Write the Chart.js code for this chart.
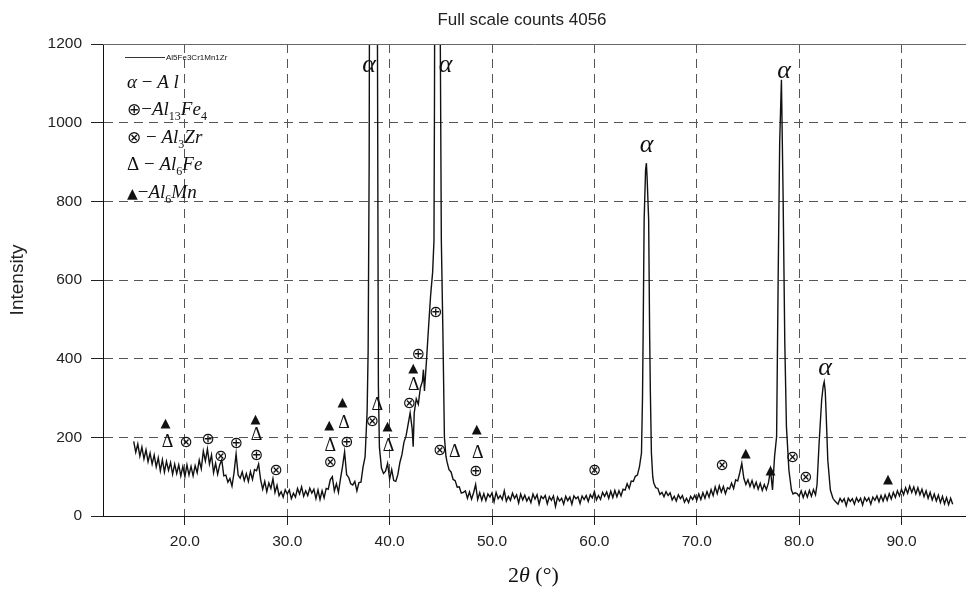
<!DOCTYPE html>
<html>
<head>
<meta charset="utf-8">
<title>XRD Al5Fe3Cr1Mn1Zr</title>
<script src="https://cdn.jsdelivr.net/npm/chart.js@4.4.1/dist/chart.umd.min.js"></script>
<style>
  html, body { margin: 0; padding: 0; background: #fff; }
  #wrap { width: 966px; height: 592px; }
</style>
</head>
<body>
<div id="wrap"><canvas id="xrd" width="966" height="592"></canvas></div>
<script>
// ----- scan data (2θ in degrees, counts) -----
const twoTheta = [
  15.0, 15.2, 15.4, 15.6, 15.8, 16.0, 16.2, 16.4, 16.6, 16.8,
  17.0, 17.2, 17.4, 17.6, 17.8, 18.0, 18.2, 18.4, 18.6, 18.8,
  19.0, 19.2, 19.4, 19.6, 19.8, 20.0, 20.2, 20.4, 20.6, 20.8,
  21.0, 21.2, 21.4, 21.6, 21.8, 22.0, 22.2, 22.4, 22.6, 22.8,
  23.0, 23.2, 23.4, 23.6, 23.8, 24.0, 24.2, 24.4, 24.6, 24.8,
  25.0, 25.2, 25.4, 25.6, 25.8, 26.0, 26.2, 26.4, 26.6, 26.8,
  27.0, 27.2, 27.4, 27.6, 27.8, 28.0, 28.2, 28.4, 28.6, 28.8,
  29.0, 29.2, 29.4, 29.6, 29.8, 30.0, 30.2, 30.4, 30.6, 30.8,
  31.0, 31.2, 31.4, 31.6, 31.8, 32.0, 32.2, 32.4, 32.6, 32.8,
  33.0, 33.2, 33.4, 33.6, 33.8, 34.0, 34.2, 34.4, 34.6, 34.8,
  35.0, 35.2, 35.4, 35.6, 35.8, 36.0, 36.2, 36.4, 36.6, 36.8,
  37.0, 37.2, 37.4, 37.6, 37.8, 37.9, 38.0, 38.1, 38.4, 38.7,
  38.8, 38.9, 39.0, 39.2, 39.4, 39.6, 39.8, 40.0, 40.2, 40.4,
  40.6, 40.8, 41.0, 41.2, 41.4, 41.6, 41.8, 42.0, 42.2, 42.3,
  42.4, 42.6, 42.8, 43.0, 43.2, 43.3, 43.4, 43.6, 43.8, 44.0,
  44.2, 44.33, 44.38, 44.5, 44.7, 44.85, 44.95, 45.05, 45.2, 45.35,
  45.5, 45.6, 45.8, 46.0, 46.2, 46.4, 46.6, 46.8, 47.0, 47.2,
  47.4, 47.6, 47.8, 48.0, 48.2, 48.4, 48.6, 48.8, 49.0, 49.2,
  49.4, 49.6, 49.8, 50.0, 50.2, 50.4, 50.6, 50.8, 51.0, 51.2,
  51.4, 51.6, 51.8, 52.0, 52.2, 52.4, 52.6, 52.8, 53.0, 53.2,
  53.4, 53.6, 53.8, 54.0, 54.2, 54.4, 54.6, 54.8, 55.0, 55.2,
  55.4, 55.6, 55.8, 56.0, 56.2, 56.4, 56.6, 56.8, 57.0, 57.2,
  57.4, 57.6, 57.8, 58.0, 58.2, 58.4, 58.6, 58.8, 59.0, 59.2,
  59.4, 59.6, 59.8, 60.0, 60.2, 60.4, 60.6, 60.8, 61.0, 61.2,
  61.4, 61.6, 61.8, 62.0, 62.2, 62.4, 62.6, 62.8, 63.0, 63.2,
  63.4, 63.6, 63.8, 64.0, 64.2, 64.4, 64.6, 64.7, 64.76, 64.86,
  65.0, 65.08, 65.15, 65.3, 65.4, 65.47, 65.57, 65.7, 65.8, 66.0,
  66.2, 66.4, 66.6, 66.8, 67.0, 67.2, 67.4, 67.6, 67.8, 68.0,
  68.2, 68.4, 68.6, 68.8, 69.0, 69.2, 69.4, 69.6, 69.8, 70.0,
  70.2, 70.4, 70.6, 70.8, 71.0, 71.2, 71.4, 71.6, 71.8, 72.0,
  72.2, 72.4, 72.6, 72.8, 73.0, 73.2, 73.4, 73.6, 73.8, 74.0,
  74.2, 74.4, 74.6, 74.8, 75.0, 75.2, 75.4, 75.6, 75.8, 76.0,
  76.2, 76.4, 76.6, 76.8, 77.0, 77.2, 77.4, 77.6, 77.8, 77.95,
  78.1, 78.27, 78.43, 78.6, 78.76, 79.0, 79.25, 79.4, 79.6, 79.8,
  80.0, 80.2, 80.4, 80.6, 80.8, 81.0, 81.2, 81.4, 81.6, 81.75,
  81.95, 82.2, 82.35, 82.45, 82.55, 82.66, 82.8, 83.05, 83.3, 83.5,
  83.8, 84.0, 84.2, 84.4, 84.6, 84.8, 85.0, 85.2, 85.4, 85.6,
  85.8, 86.0, 86.2, 86.4, 86.6, 86.8, 87.0, 87.2, 87.4, 87.6,
  87.8, 88.0, 88.2, 88.4, 88.6, 88.8, 89.0, 89.2, 89.4, 89.6,
  89.8, 90.0, 90.2, 90.4, 90.6, 90.8, 91.0, 91.2, 91.4, 91.6,
  91.8, 92.0, 92.2, 92.4, 92.6, 92.8, 93.0, 93.2, 93.4, 93.6,
  93.8, 94.0, 94.2, 94.4, 94.6, 94.8, 95.0
];

const counts = [
  190, 162, 183, 152, 175, 145, 168, 138, 160, 132,
  155, 125, 148, 115, 143, 112, 139, 116, 136, 106,
  132, 108, 130, 102, 126, 100, 130, 104, 126, 102,
  128, 110, 142, 120, 165, 140, 170, 132, 155, 110,
  134, 106, 130, 143, 102, 104, 86, 95, 76, 110,
  158, 104, 96, 112, 90, 108, 88, 113, 93, 118,
  115, 132, 92, 68, 88, 62, 84, 70, 95, 60,
  78, 52, 62, 48, 67, 56, 66, 44, 58, 48,
  70, 56, 74, 50, 64, 52, 71, 58, 68, 44,
  66, 42, 64, 46, 70, 68, 92, 100, 64, 82,
  60, 95, 126, 163, 105, 98, 82, 79, 88, 64,
  85, 86, 124, 150, 265, 420, 900, 2200, 4056, 2200,
  1300, 330, 175, 122, 108, 114, 134, 94, 118, 90,
  88, 105, 136, 156, 188, 203, 232, 262, 222, 176,
  262, 298, 284, 326, 342, 372, 318, 396, 480, 560,
  620, 700, 1058, 2500, 4056, 2500, 1200, 700, 470, 200,
  152, 138, 118, 112, 93, 90, 73, 74, 58, 60,
  64, 45, 61, 43, 59, 80, 42, 59, 40, 57,
  39, 56, 48, 59, 36, 60, 44, 52, 42, 64,
  38, 50, 40, 58, 45, 54, 33, 56, 41, 53,
  38, 48, 34, 56, 43, 54, 30, 50, 44, 52,
  31, 49, 40, 51, 24, 48, 38, 45, 30, 50,
  39, 48, 30, 51, 44, 49, 32, 51, 42, 52,
  37, 54, 46, 62, 41, 52, 42, 60, 50, 61,
  45, 63, 47, 65, 49, 64, 51, 68, 66, 82,
  70, 89, 88, 101, 104, 125, 160, 300, 456, 753,
  880, 897, 860, 753, 456, 312, 160, 100, 84, 72,
  70, 55, 60, 49, 62, 52, 59, 41, 50, 38,
  54, 44, 52, 35, 45, 34, 50, 42, 53, 40,
  56, 42, 59, 45, 62, 48, 67, 52, 74, 57,
  77, 61, 75, 57, 72, 69, 84, 70, 92, 89,
  110, 134, 96, 80, 92, 75, 90, 72, 86, 68,
  83, 65, 80, 67, 84, 117, 66, 151, 202, 600,
  950, 1109, 821, 440, 227, 117, 66, 56, 59, 57,
  50, 64, 47, 62, 48, 65, 50, 67, 54, 80,
  185, 295, 330, 341, 318, 244, 142, 66, 45, 38,
  30, 45, 36, 44, 26, 45, 37, 44, 30, 46,
  36, 45, 28, 47, 38, 46, 30, 48, 40, 51,
  36, 52, 38, 54, 40, 57, 43, 60, 47, 64,
  51, 68, 54, 72, 58, 76, 60, 74, 56, 72,
  54, 68, 49, 64, 45, 60, 41, 56, 38, 53,
  34, 50, 31, 47, 29, 45, 30
];

const xTicks = [20, 30, 40, 50, 60, 70, 80, 90];
const xTickLabels = ['20.0', '30.0', '40.0', '50.0', '60.0', '70.0', '80.0', '90.0'];
const yTicks = [0, 200, 400, 600, 800, 1000, 1200];

// phase markers: ▲ Al6Mn, Δ Al6Fe, ⊗ Al3Zr, ⊕ Al13Fe4
const markerX = [
  18.1, 18.3, 20.1, 22.25, 23.5, 25.0, 26.9, 27.0, 27.0, 28.9,
  34.1, 34.2, 34.2, 35.4, 35.55, 35.8, 38.3, 38.8, 39.8, 39.9,
  41.9, 42.3, 42.36, 42.8, 44.5, 44.9, 46.37, 48.5, 48.6, 48.4,
  60.0, 72.45, 74.78, 77.2, 79.35, 80.65, 88.68
];
const markerY = [
  236, 188, 185, 193, 150, 183, 244, 206, 152, 114,
  229, 178, 136, 288, 237, 187, 240, 281, 228, 178,
  286, 374, 333, 409, 516, 166, 162, 219, 160, 113,
  114, 128, 159, 115, 148, 97, 92
];
const markerSymbol = [
  '▲', 'Δ', '⊗', '⊕', '⊗', '⊕', '▲', 'Δ', '⊕', '⊗',
  '▲', 'Δ', '⊗', '▲', 'Δ', '⊕', '⊗', 'Δ', '▲', 'Δ',
  '⊗', '▲', 'Δ', '⊕', '⊕', '⊗', 'Δ', '▲', 'Δ', '⊕',
  '⊗', '⊗', '▲', '▲', '⊗', '⊗', '▲'
];

// α-Al reflections
const alphaX = [38.0, 45.46, 65.09, 78.53, 82.53];
const alphaY = [1147, 1147, 943, 1130, 375];

const SANS = "'Liberation Sans', Arial, sans-serif";
const SERIF = "'Liberation Serif', 'Times New Roman', serif";

const SYMBOL_FONT = {
  '▲': "13px 'DejaVu Sans'",
  'Δ': `18px ${SERIF}`,
  '⊗': "16px 'DejaVu Sans'",
  '⊕': "16px 'DejaVu Sans'"
};

const PART_FONT = {
  it: `italic 19px ${SERIF}`,
  rm: `19px ${SERIF}`,
  sub: `12px ${SERIF}`,
  sym: "17px 'DejaVu Sans'",
  tri: "14px 'DejaVu Sans'",
  xrm: `22px ${SERIF}`,
  xit: `italic 22px ${SERIF}`
};

const legendRows = [
  { y: 88, parts: [['α', 'it'], [' − ', 'rm'], ['A l', 'it']] },
  { y: 115, parts: [['⊕', 'sym'], ['−', 'rm'], ['Al', 'it'], ['13', 'sub'], ['Fe', 'it'], ['4', 'sub']] },
  { y: 143, parts: [['⊗', 'sym'], [' − ', 'rm'], ['Al', 'it'], ['3', 'sub'], ['Zr', 'it']] },
  { y: 170, parts: [['Δ', 'rm'], [' − ', 'rm'], ['Al', 'it'], ['6', 'sub'], ['Fe', 'it']] },
  { y: 198, parts: [['▲', 'tri'], ['−', 'rm'], ['Al', 'it'], ['6', 'sub'], ['Mn', 'it']] }
];

function drawParts(ctx, x, y, parts) {
  parts.forEach(([text, kind]) => {
    ctx.font = PART_FONT[kind];
    ctx.fillText(text, x, kind === 'sub' ? y + 5 : y);
    x += ctx.measureText(text).width;
  });
}

const overlay = {
  id: 'overlay',
  afterDraw(chart) {
    const { ctx, chartArea: area, scales: { x, y } } = chart;
    ctx.save();

    // solid top frame line
    const top = Math.round(y.getPixelForValue(1200)) + 0.5;
    ctx.strokeStyle = '#666';
    ctx.lineWidth = 1;
    ctx.beginPath();
    ctx.moveTo(area.left, top);
    ctx.lineTo(area.right, top);
    ctx.stroke();

    ctx.fillStyle = '#111';
    ctx.textAlign = 'center';
    ctx.textBaseline = 'middle';

    markerX.forEach((v, i) => {
      const s = markerSymbol[i];
      ctx.font = SYMBOL_FONT[s];
      ctx.fillText(s, x.getPixelForValue(v), y.getPixelForValue(markerY[i]));
    });

    ctx.font = `italic 26px ${SERIF}`;
    alphaX.forEach((v, i) => {
      ctx.fillText('α', x.getPixelForValue(v), y.getPixelForValue(alphaY[i]));
    });

    // title
    ctx.font = `17px ${SANS}`;
    ctx.fillStyle = '#222';
    ctx.fillText('Full scale counts 4056', 522, 20);

    // axis titles
    ctx.save();
    ctx.translate(18, 280);
    ctx.rotate(-Math.PI / 2);
    ctx.font = `19px ${SANS}`;
    ctx.fillText('Intensity', 0, 0);
    ctx.restore();

    ctx.textAlign = 'left';
    ctx.textBaseline = 'alphabetic';
    ctx.fillStyle = '#111';
    drawParts(ctx, 508, 582, [['2', 'xrm'], ['θ', 'xit'], [' (°)', 'xrm']]);

    // legend
    ctx.strokeStyle = '#333';
    ctx.beginPath();
    ctx.moveTo(125, 57.5);
    ctx.lineTo(165, 57.5);
    ctx.stroke();
    ctx.font = `8px ${SANS}`;
    ctx.textBaseline = 'middle';
    ctx.fillText('Al5Fe3Cr1Mn1Zr', 166, 58);

    ctx.textBaseline = 'alphabetic';
    legendRows.forEach(row => drawParts(ctx, 127, row.y, row.parts));

    ctx.restore();
  }
};

new Chart(document.getElementById('xrd'), {
  type: 'line',
  data: {
    datasets: [{
      label: 'Al5Fe3Cr1Mn1Zr',
      data: twoTheta.map((t, i) => ({ x: t, y: counts[i] })),
      borderColor: '#111',
      borderWidth: 1.4,
      pointRadius: 0,
      tension: 0,
      fill: false
    }]
  },
  options: {
    responsive: false,
    devicePixelRatio: 1,
    animation: false,
    layout: { padding: { top: 44, left: 0, right: 0, bottom: 0 } },
    plugins: {
      legend: { display: false },
      title: { display: false },
      tooltip: { enabled: false }
    },
    scales: {
      x: {
        type: 'linear',
        min: 12,
        max: 96.3,
        afterFit: s => { s.height = 76; },
        afterBuildTicks: s => { s.ticks = xTicks.map(v => ({ value: v })); },
        ticks: {
          callback: (v, i) => xTickLabels[i],
          font: { family: SANS, size: 15.5 },
          color: '#222',
          padding: 7,
          autoSkip: false,
          maxRotation: 0
        },
        grid: { color: '#555', lineWidth: 1, tickLength: 9, tickColor: '#222', tickBorderDash: [] },
        border: { color: '#111', width: 1, dash: [9, 6] }
      },
      y: {
        min: 0,
        max: 1200,
        afterFit: s => { s.width = 103; },
        afterBuildTicks: s => { s.ticks = yTicks.map(v => ({ value: v })); },
        ticks: {
          callback: v => String(v),
          font: { family: SANS, size: 15.5 },
          color: '#222',
          padding: 9
        },
        grid: { color: '#555', lineWidth: 1, tickLength: 12, tickColor: '#222', tickBorderDash: [] },
        border: { color: '#111', width: 1, dash: [9, 6] }
      }
    }
  },
  plugins: [overlay]
});
</script>
</body>
</html>
